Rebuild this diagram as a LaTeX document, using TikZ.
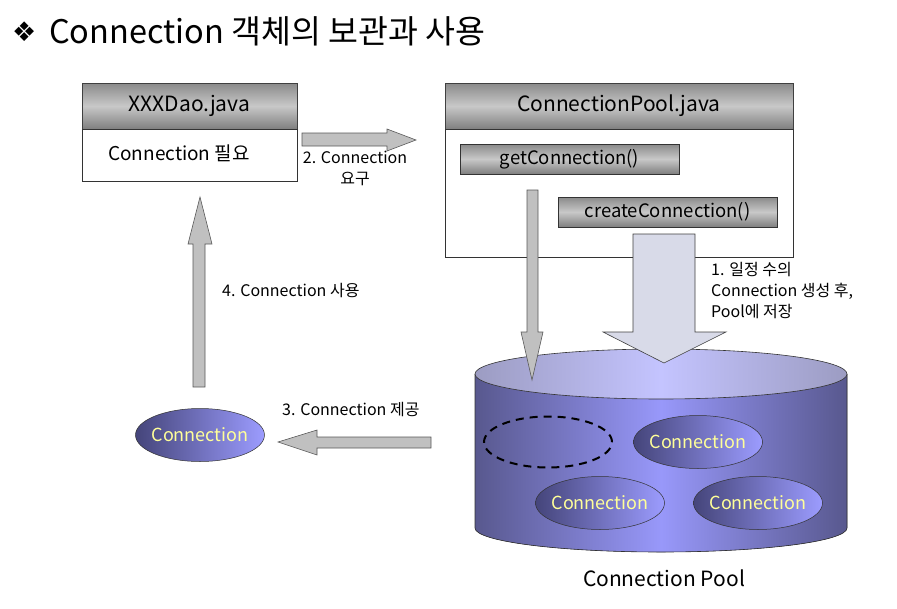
\documentclass[tikz,border=0pt]{standalone}
\usepackage{fontspec}
\setmainfont{Noto Sans CJK KR}
\newfontfamily\dingfont{DejaVu Sans}
\usepackage{xcolor}
\usepackage{tikz}
\usetikzlibrary{calc,positioning,shapes.geometric}
\definecolor{hdrDark}{HTML}{8A8A8A}
\definecolor{hdrLight}{HTML}{C8C8C8}
\definecolor{arrowGray}{HTML}{C0C0C0}
\definecolor{arrowLav}{HTML}{D8DAE8}
\definecolor{poolDark}{HTML}{58588E}
\definecolor{poolMid}{HTML}{9898FA}
\definecolor{poolTopDark}{HTML}{9C9CC2}
\definecolor{poolTopMid}{HTML}{C4C4FF}
\definecolor{connDark}{HTML}{45457A}
\definecolor{connLight}{HTML}{9C9CFF}
\definecolor{connText}{HTML}{FFFF99}
\tikzset{
    fileHead/.style={draw=black!75, top color=hdrDark, bottom color=hdrDark!92!black,
                     middle color=hdrLight, inner sep=0pt,
                     font=\fontsize{21}{23}\selectfont, line width=0.6pt},
    fileBody/.style={draw=black!80, fill=white, inner sep=0pt, line width=0.6pt},
    methodBox/.style={draw=black!80, top color=hdrDark, bottom color=hdrDark!92!black,
                      middle color=hdrLight, inner sep=0pt,
                      minimum width=219pt, minimum height=30pt,
                      font=\fontsize{18.5}{20}\selectfont, line width=0.6pt},
    blockArrow/.style={draw=black!65, fill=arrowGray, line width=0.6pt, line join=miter},
    bigArrow/.style={draw=black!75, fill=arrowLav, line width=0.6pt, line join=miter},
    connEll/.style={ellipse, draw=black!80, left color=connDark, right color=connLight,
                    minimum width=129pt, minimum height=53pt, inner sep=-5pt,
                    text=connText, font=\fontsize{18}{20}\selectfont, line width=0.5pt},
    emptyEll/.style={ellipse, draw=black, dashed, dash pattern=on 8pt off 6pt,
                     line width=2pt, minimum width=128pt, minimum height=51pt},
    stepLbl/.style={font=\fontsize{16}{21}\selectfont, inner sep=0pt, align=left},
}

\begin{document}
\begin{tikzpicture}[x=1pt,y=-1pt]
\useasboundingbox (0,0) rectangle (897,608);

% ---------------- TITLE ----------------
\node[anchor=west, inner sep=0pt, font=\fontsize{27}{29}\selectfont\dingfont] (bullet) at (12,32) {❖};
\node[anchor=west, inner sep=0pt, font=\fontsize{32.5}{34}\selectfont] (title) at (49,31)
     {Connection 객체의 보관과 사용};

% ---------------- XXXDao.java ----------------
\node[fileHead, minimum width=215pt, minimum height=46pt] (daoHead) at (189.5,106) {XXXDao.java};
\node[fileBody, minimum width=215pt, minimum height=52pt, below=0pt of daoHead] (daoBody) {};
\node[anchor=west, inner sep=0pt, font=\fontsize{19}{21}\selectfont] (daoNeed) at (108,153)
     {Connection 필요};

% ---------------- ConnectionPool.java ----------------
\node[fileHead, minimum width=348pt, minimum height=46pt] (poolHead) at (619,106) {ConnectionPool.java};
\node[fileBody, minimum width=348pt, minimum height=128pt, below=0pt of poolHead] (poolBody) {};
\node[methodBox] (getConn) at (569.5,159) {getConnection()};
\node[methodBox] (createConn) at (667.5,212) {createConnection()};

% ---------------- Connection Pool (cylinder) ----------------
\fill[left color=poolDark, right color=poolDark, middle color=poolMid]
  (475,374) -- (475,528) arc[start angle=180, end angle=360, x radius=186pt, y radius=24pt]
  -- (847,374) arc[start angle=0, end angle=-180, x radius=186pt, y radius=25pt] -- cycle;
\draw[black!80, line width=0.6pt]
  (475,374) -- (475,528) arc[start angle=180, end angle=360, x radius=186pt, y radius=24pt]
  -- (847,374);
\draw[black!80, line width=0.6pt, left color=poolTopDark, right color=poolTopDark,
      middle color=poolTopMid] (661,374) ellipse [x radius=186pt, y radius=25pt];
\coordinate (poolTop) at (661,374);

\node[emptyEll] (slotEmpty) at (548,442) {};
\node[connEll] (connA) at (698,442) {Connection};
\node[connEll] (connB) at (600,503) {Connection};
\node[connEll] (connC) at (758,503) {Connection};
\node[font=\fontsize{21}{23}\selectfont, inner sep=0pt] (poolName) at (664,578) {Connection Pool};

% ---------------- borrowed Connection ----------------
\node[connEll] (connOut) at (200,435) {Connection};

% ---------------- block arrows ----------------
% 1: createConnection -> pool
\draw[bigArrow] (633,234) -- (695,234) -- (695,332) -- (726,332) -- (664,363)
  -- (603,332) -- (633,332) -- cycle;
\node[stepLbl, anchor=north west] (lblCreate) at (711,262)
     {1. 일정 수의\\Connection 생성 후,\\Pool에 저장};
% 2: dao -> getConnection
\draw[blockArrow] (302,133) -- (387,133) -- (387,129) -- (416,140) -- (387,151)
  -- (387,146) -- (302,146) -- cycle;
\node[stepLbl, align=center, anchor=north] (lblAsk) at (355,151) {2. Connection\\요구};
% getConnection -> pool
\draw[blockArrow] (527,190) -- (538,190) -- (538,332) -- (543,332) -- (532,380)
  -- (521,332) -- (527,332) -- cycle;
% 3: pool -> client
\draw[blockArrow] (431,437) -- (317,437) -- (317,430) -- (278,442) -- (317,455)
  -- (317,448) -- (431,448) -- cycle;
\node[stepLbl, anchor=west] (lblGive) at (282,410) {3. Connection 제공};
% 4: connection -> dao
\draw[blockArrow] (193,387) -- (193,244) -- (188,244) -- (200,197) -- (212,244)
  -- (205,244) -- (205,387) -- cycle;
\node[stepLbl, anchor=west] (lblUse) at (222,291) {4. Connection 사용};

\end{tikzpicture}
\end{document}
